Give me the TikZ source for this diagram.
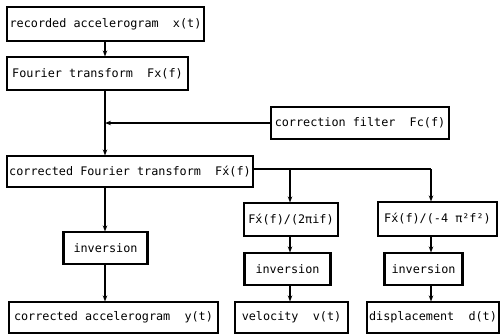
\documentclass[tikz,border=0pt]{standalone}
\usepackage{fontspec}
\setmainfont{DejaVu Sans Mono}
\usetikzlibrary{arrows.meta}
\begin{document}
\begin{tikzpicture}[x=1pt,y=-1pt,
  box/.style={draw,line width=1.1pt,inner sep=0pt,font=\fontsize{11.8}{14}\selectfont},
  conn/.style={line width=1.1pt},
  arr/.style={conn,-{Stealth[length=6pt,width=4.5pt]}},
  thickedge/.style={line width=3pt}]
\useasboundingbox (0,0) rectangle (500,335);
\node[box,minimum width=197pt,minimum height=34pt] (rec) at (105.5,24) {recorded accelerogram\ \ x(t)};
\node[box,minimum width=181pt,minimum height=33pt] (ft) at (97.5,73.5) {Fourier transform\ \ Fx(f)};
\node[box,minimum width=178pt,minimum height=32pt] (filt) at (360,123) {correction filter\ \ Fc(f)};
\node[box,minimum width=246pt,minimum height=31pt] (cft) at (130,171.5) {corrected Fourier transform\ \ F\'{x}(f)};
\node[box,minimum width=83pt,minimum height=32pt] (inva) at (105.5,248) {inversion};
\node[box,minimum width=209pt,minimum height=31pt] (outa) at (113.5,317.5) {corrected accelerogram\ \ y(t)};
\node[box,minimum width=94pt,minimum height=33pt] (diva) at (291,219.5) {F\'{x}(f)/(2πif)};
\node[box,minimum width=85pt,minimum height=32pt] (invb) at (287.5,269) {inversion};
\node[box,minimum width=113pt,minimum height=31pt] (outb) at (291.5,317.5) {velocity\ \ v(t)};
\node[box,minimum width=119pt,minimum height=34pt] (divb) at (437.5,219) {F\'{x}(f)/(-4 π²f²)};
\node[box,minimum width=77pt,minimum height=32pt] (invc) at (423.5,269) {inversion};
\node[box,minimum width=132pt,minimum height=31pt] (outc) at (433,317.5) {displacement\ \ d(t)};
% thick edges of inversion boxes
\foreach \n in {inva,invb,invc}{
  \draw[thickedge] (\n.north west) -- (\n.south west);
  \draw[thickedge] (\n.north east) -- (\n.south east);
}
\coordinate (ja) at (290,169);
\coordinate (jb) at (431,169);
\coordinate (jf) at (105,123);
% left column
\draw[arr] (rec.south -| jf) -- (ft.north -| jf);
\draw[arr] (ft.south -| jf) -- (cft.north -| jf);
\draw[arr] (filt.west) -- (jf);
\draw[arr] (cft.south -| jf) -- (inva.north -| jf);
\draw[arr] (inva.south -| jf) -- (outa.north -| jf);
% branches
\draw[conn] (cft.east |- ja) -- (jb);
\draw[arr] (ja) -- (diva.north -| ja);
\draw[arr] (jb) -- (divb.north -| jb);
\draw[arr] (diva.south -| ja) -- (invb.north -| ja);
\draw[arr] (invb.south -| ja) -- (outb.north -| ja);
\draw[arr] (divb.south -| jb) -- (invc.north -| jb);
\draw[arr] (invc.south -| jb) -- (outc.north -| jb);
\end{tikzpicture}
\end{document}
